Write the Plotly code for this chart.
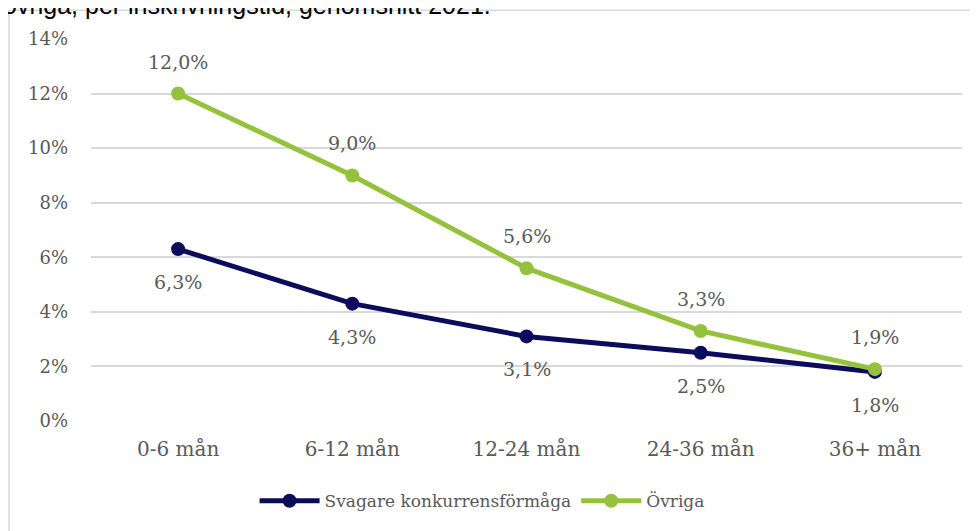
import plotly.graph_objects as go

categories = ["0-6 mån", "6-12 mån", "12-24 mån", "24-36 mån", "36+ mån"]
svagare = [6.3, 4.3, 3.1, 2.5, 1.8]
ovriga = [12.0, 9.0, 5.6, 3.3, 1.9]
y_ticks = [0, 2, 4, 6, 8, 10, 12, 14]
y_ticklabels = [f"{v}%" for v in y_ticks]

NAVY = "#0c0c5c"
GREEN = "#95c23d"
GRAY = "#595959"
SERIF = "DejaVu Serif"

def fmt(v):
    return f"{v:.1f}".replace(".", ",") + "%"

fig = go.Figure()
fig.add_trace(go.Scatter(
    x=categories, y=svagare, name="Svagare konkurrensförmåga",
    mode="lines+markers",
    line=dict(color=NAVY, width=5),
    marker=dict(color=NAVY, size=14),
))
fig.add_trace(go.Scatter(
    x=categories, y=ovriga, name="Övriga",
    mode="lines+markers",
    line=dict(color=GREEN, width=5),
    marker=dict(color=GREEN, size=14),
))

annotations = []
for c, v in zip(categories, ovriga):
    annotations.append(dict(x=c, y=v, xref="x", yref="y", text=fmt(v),
                            showarrow=False, yshift=32,
                            font=dict(family=SERIF, size=19, color=GRAY)))
for c, v in zip(categories, svagare):
    annotations.append(dict(x=c, y=v, xref="x", yref="y", text=fmt(v),
                            showarrow=False, yshift=-33,
                            font=dict(family=SERIF, size=19, color=GRAY)))
annotations.append(dict(
    x=-0.1033, y=1.046, xref="paper", yref="paper", xanchor="left", yanchor="bottom",
    text="övriga, per inskrivningstid, genomsnitt 2021.", showarrow=False,
    font=dict(family="Liberation Sans", size=25, color="#000000")))

fig.update_layout(
    width=970, height=523,
    margin=dict(l=83, r=16, t=31, b=104),
    paper_bgcolor="white", plot_bgcolor="white",
    showlegend=True,
    legend=dict(orientation="h", x=0.449, xanchor="center", y=-0.21, yanchor="middle",
                font=dict(family=SERIF, size=17, color=GRAY), itemwidth=60),
    annotations=annotations,
    shapes=[dict(type="rect", xref="paper", yref="paper",
                 x0=-0.0941, x1=1.1, y0=-0.4, y1=1.0751,
                 line=dict(color="#d9d9d9", width=1.5), fillcolor="rgba(0,0,0,0)")],
)
fig.update_xaxes(
    type="category", range=[-0.5, 4.5], showgrid=False, showline=False, zeroline=False,
    ticks="", ticklabelstandoff=14,
    tickfont=dict(family=SERIF, size=20, color=GRAY),
)
fig.update_yaxes(
    range=[0, 14], tickvals=y_ticks, ticktext=y_ticklabels,
    showgrid=True, gridcolor="#d9d9d9", gridwidth=1.5,
    zeroline=False, showline=False, ticks="", ticklabelstandoff=22,
    tickfont=dict(family=SERIF, size=18, color=GRAY),
)

fig.write_html("out.html")
